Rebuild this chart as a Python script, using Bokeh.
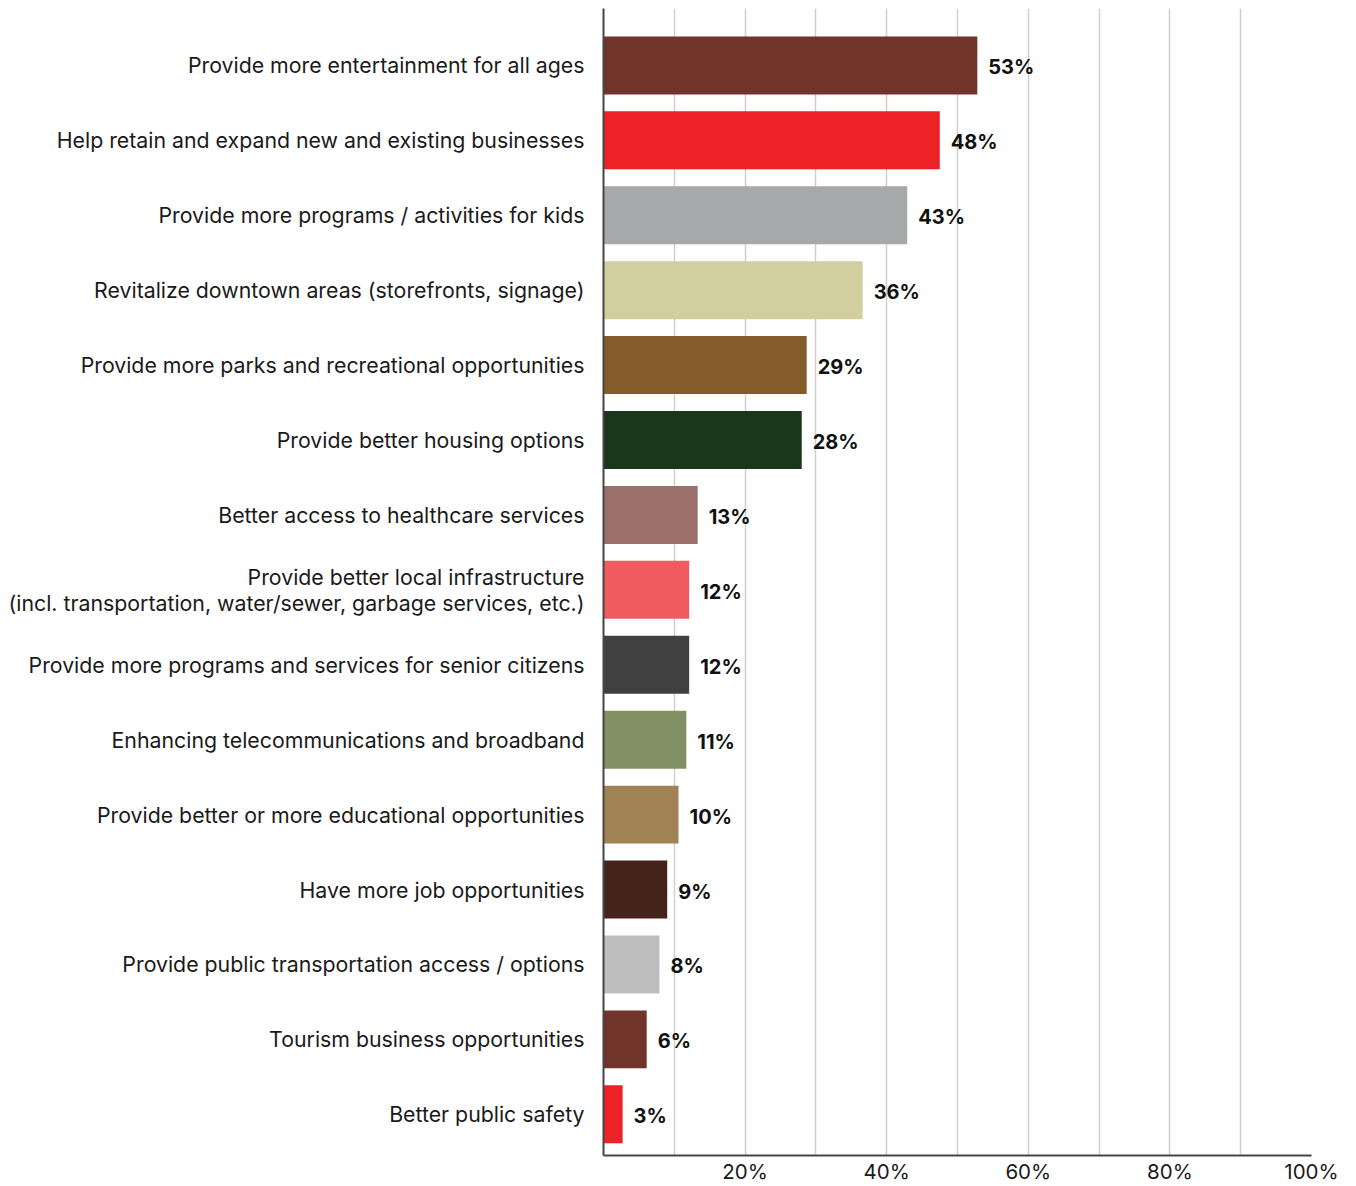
from bokeh.plotting import figure
from bokeh.models import Range1d, FixedTicker, ColumnDataSource
from bokeh.core.properties import value
from bokeh.embed import file_html
from bokeh.resources import INLINE

categories = [
    "Provide more entertainment for all ages",
    "Help retain and expand new and existing businesses",
    "Provide more programs / activities for kids",
    "Revitalize downtown areas (storefronts, signage)",
    "Provide more parks and recreational opportunities",
    "Provide better housing options",
    "Better access to healthcare services",
    "Provide better local infrastructure\n(incl. transportation, water/sewer, garbage services, etc.)",
    "Provide more programs and services for senior citizens",
    "Enhancing telecommunications and broadband",
    "Provide better or more educational opportunities",
    "Have more job opportunities",
    "Provide public transportation access / options",
    "Tourism business opportunities",
    "Better public safety",
]
values = [52.8, 47.5, 42.9, 36.6, 28.7, 28.0, 13.3, 12.1, 12.1, 11.7, 10.6, 9.0, 7.9, 6.1, 2.7]
value_labels = ["53%", "48%", "43%", "36%", "29%", "28%", "13%", "12%", "12%", "11%",
                "10%", "9%", "8%", "6%", "3%"]
colors = ["#71342B", "#EC2227", "#A7A8AA", "#D2CE9F", "#835C29", "#1A361D", "#9C706A",
          "#EF5B5F", "#404040", "#819163", "#A08255", "#46231A", "#BDBDBD", "#71342B", "#EC2227"]
x_ticks = [20, 40, 60, 80, 100]
x_tick_labels = ["20%", "40%", "60%", "80%", "100%"]
grid_ticks = [10, 20, 30, 40, 50, 60, 70, 80, 90, 100]

n = len(categories)
pos = [n - 1 - i for i in range(n)]
src = ColumnDataSource(dict(cat=categories, pos=pos, val=values, lab=value_labels, color=colors))

FONT = "Inter"

p = figure(width=1348, height=1186,
           x_range=Range1d(0, 100), y_range=Range1d(-0.55, n - 1 + 0.76),
           output_backend="svg", toolbar_location=None,
           min_border_left=603, min_border_right=37, min_border_top=8, min_border_bottom=20)
p.background_fill_color = "white"
p.border_fill_color = "white"
p.outline_line_color = None

p.hbar(y="pos", left=0, right="val", height=0.774, fill_color="color", line_color=None, source=src)
p.text(x="val", y="pos", text="lab", x_offset=11, y_offset=2, text_baseline="middle", text_align="left",
       text_font=value(FONT), text_font_style="bold", text_font_size="20px",
       text_color="#111111", source=src)

p.xgrid.ticker = FixedTicker(ticks=grid_ticks)
p.xgrid.grid_line_color = "#cfcfcf"
p.xgrid.grid_line_width = 1.5
p.ygrid.visible = False

p.xaxis.ticker = FixedTicker(ticks=x_ticks)
p.xaxis.major_label_overrides = {t: l for t, l in zip(x_ticks, x_tick_labels)}
p.yaxis.ticker = FixedTicker(ticks=pos)
p.yaxis.major_label_overrides = {t: c for t, c in zip(pos, categories)}

for ax in (p.xaxis, p.yaxis):
    ax.axis_line_color = "#454545"
    ax.axis_line_width = 2
    ax.major_tick_line_color = None
    ax.minor_tick_line_color = None
    ax.major_tick_out = 0
    ax.major_tick_in = 0
    ax.major_label_text_font = FONT
    ax.major_label_text_color = "#1a1a1a"

p.yaxis.major_label_text_font_size = "21.3px"
p.yaxis.major_label_text_line_height = 1.0
p.xaxis.major_label_text_font_size = "20.5px"
p.yaxis.major_label_standoff = 19
p.xaxis.major_label_standoff = 3

open("out.html", "w").write(file_html(p, INLINE))
